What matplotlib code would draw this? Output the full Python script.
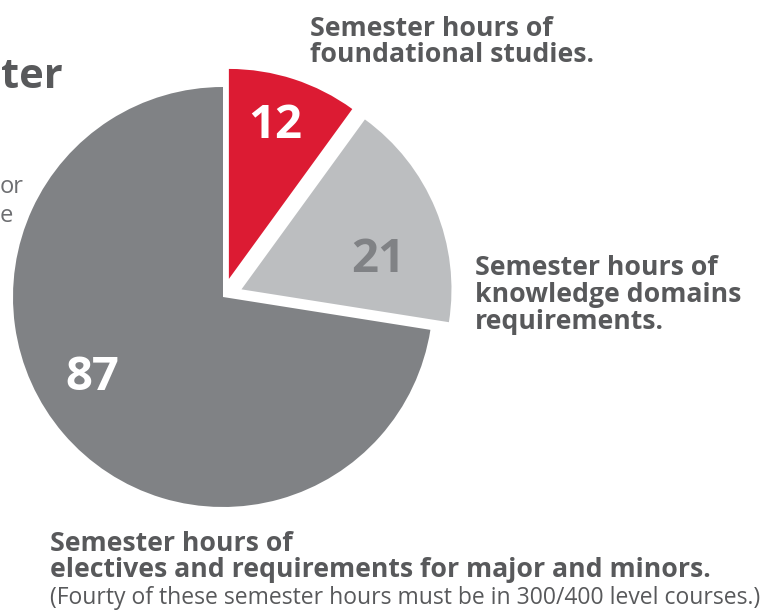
import matplotlib.pyplot as plt

hours = [12, 21, 87]
hour_labels = ["12", "21", "87"]
slice_colors = ["#dc1b33", "#bcbec0", "#808285"]
number_colors = ["white", "#808285", "white"]

top_label = "Semester hours of\nfoundational studies."
right_label = "Semester hours of\nknowledge domains\nrequirements."
bottom_head = "Semester hours of\nelectives and requirements for major and minors."
bottom_note = "(Fourty of these semester hours must be in 300/400 level courses.)"

H = 612
text_grey = "#58595b"

fig = plt.figure(figsize=(7.67, 6.12), dpi=100)
ax = fig.add_axes([0, 0, 1, 1])

# leftover bits of the heading that sits behind the pie
ax.text(1, H - 88, "ter", ha="left", va="baseline", fontsize=30,
        fontweight="bold", color=text_grey, family="Open Sans", zorder=0)
ax.text(0, H - 193, "or", ha="left", va="baseline", fontsize=17,
        color="#6d6e71", family="Open Sans", zorder=0)
ax.text(0, H - 222, "e", ha="left", va="baseline", fontsize=17,
        color="#6d6e71", family="Open Sans", zorder=0)

wedges, _ = ax.pie(hours, colors=slice_colors, startangle=90, counterclock=False,
                   radius=210, center=(223, H - 297), explode=[19, 20, 0],
                   wedgeprops=dict(linewidth=0), frame=True)

num_pos = [(275, H - 125), (378, H - 260), (92, H - 378)]
for (x, y), lab, c in zip(num_pos, hour_labels, number_colors):
    ax.text(x, y, lab, ha="center", va="center", fontsize=34,
            fontweight="bold", color=c, family="Open Sans")

ax.text(310, H - 16, top_label, ha="left", va="top", fontsize=19.2,
        fontweight="bold", color=text_grey, family="Open Sans", linespacing=1.0)
ax.text(475, H - 255, right_label, ha="left", va="top", fontsize=19.2,
        fontweight="bold", color=text_grey, family="Open Sans", linespacing=1.05)
ax.text(50, H - 531, bottom_head, ha="left", va="top", fontsize=19.2,
        fontweight="bold", color=text_grey, family="Open Sans", linespacing=1.0)
ax.text(50, H - 586, bottom_note, ha="left", va="top", fontsize=16.5,
        color=text_grey, family="Open Sans")

ax.set_xlim(0, 767)
ax.set_ylim(0, H)
ax.set_aspect("auto")
ax.axis("off")

fig.savefig("out.png", dpi=100)
